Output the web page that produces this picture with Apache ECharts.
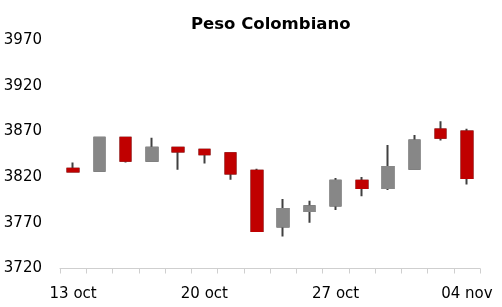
<!DOCTYPE html>
<html>
<head>
<meta charset="utf-8">
<script src="https://cdn.jsdelivr.net/npm/echarts@6/dist/echarts.min.js"></script>
<style>
html,body{margin:0;padding:0;background:#fff;}
#c{width:502px;height:307px;}
</style>
</head>
<body>
<div id="c"></div>
<script>
const categories = ["13 oct","14 oct","15 oct","16 oct","17 oct","20 oct","21 oct","22 oct","23 oct","24 oct","27 oct","28 oct","29 oct","30 oct","31 oct","04 nov"];
const openValues  = [3829, 3827, 3863, 3838, 3852, 3850, 3846, 3827, 3766, 3783, 3789, 3816, 3808, 3829, 3872, 3870];
const closeValues = [3826, 3863, 3838, 3852, 3848, 3845, 3824, 3761, 3785, 3788, 3816, 3808, 3831, 3860, 3863, 3819];
const lowValues   = [3826, 3826, 3836, 3838, 3828, 3835, 3817, 3761, 3755, 3770, 3784, 3799, 3806, 3829, 3860, 3812];
const highValues  = [3836, 3864, 3863, 3863, 3852, 3850, 3847, 3829, 3796, 3794, 3819, 3820, 3855, 3866, 3881, 3873];
const yTicks = [3720, 3770, 3820, 3870, 3920, 3970];

const fullData = categories.map((c, i) => [openValues[i], closeValues[i], lowValues[i], highValues[i]]);
const bodyData = categories.map((c, i) => {
  const lo = Math.min(openValues[i], closeValues[i]);
  const hi = Math.max(openValues[i], closeValues[i]);
  return [openValues[i], closeValues[i], lo, hi];
});

const UP = '#878787', DOWN = '#c00000', WICK = '#404040';
const chart = echarts.init(document.getElementById('c'), null, {renderer: 'canvas'});
chart.setOption({
  animation: false,
  backgroundColor: '#ffffff',
  title: {
    text: 'Peso Colombiano',
    left: 186, top: 11,
    textStyle: {fontFamily: 'DejaVu Sans', fontWeight: 'bold', fontSize: 16.5, color: '#000'}
  },
  grid: {left: 60, right: 22, top: 40, bottom: 38.5, containLabel: false},
  xAxis: {
    type: 'category',
    data: categories,
    boundaryGap: true,
    axisLine: {show: true, lineStyle: {color: '#cfcfcf', width: 1}},
    axisTick: {show: true, interval: 0, length: 5, lineStyle: {color: '#cfcfcf'}},
    axisLabel: {interval: 4, margin: 18, fontFamily: 'DejaVu Sans', fontSize: 15, color: '#000'},
    splitLine: {show: false}
  },
  yAxis: {
    type: 'value',
    min: yTicks[0], max: yTicks[yTicks.length - 1], interval: 50,
    axisLine: {show: false},
    axisTick: {show: false},
    splitLine: {show: false},
    axisLabel: {customValues: yTicks, formatter: v => String(v), margin: 18, fontFamily: 'DejaVu Sans', fontSize: 15, color: '#000'}
  },
  series: [
    {
      type: 'candlestick',
      data: fullData,
      barWidth: 11,
      itemStyle: {color: UP, color0: DOWN, borderColor: WICK, borderColor0: WICK, borderWidth: 2}
    },
    {
      type: 'candlestick',
      data: bodyData,
      barWidth: 11,
      itemStyle: {color: UP, color0: DOWN, borderColor: UP, borderColor0: DOWN, borderWidth: 2}
    }
  ]
});
</script>
</body>
</html>
